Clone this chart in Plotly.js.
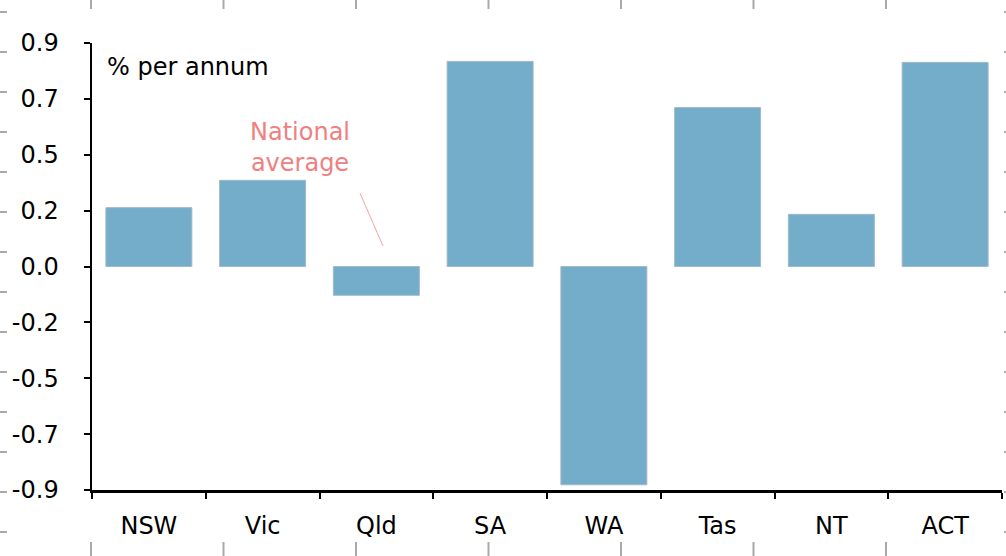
<!DOCTYPE html>
<html>
<head>
<meta charset="utf-8">
<script src="https://cdn.plot.ly/plotly-3.0.1.min.js"></script>
<style>html,body{margin:0;padding:0;background:#fff;}#chart{width:1006px;height:556px;}</style>
</head>
<body>
<div id="chart"></div>
<script>
// Data
const states = ["NSW", "Vic", "Qld", "SA", "WA", "Tas", "NT", "ACT"];
const growth = [0.237, 0.347, -0.116, 0.826, -0.879, 0.640, 0.210, 0.822];
const yTickVals = [-0.9, -0.675, -0.45, -0.225, 0, 0.225, 0.45, 0.675, 0.9];
const yTickText = ["-0.9", "-0.7", "-0.5", "-0.2", "0.0", "0.2", "0.5", "0.7", "0.9"];

const W = 1006, H = 556;
const M = {l: 92, r: 4, t: 43, b: 66};
const PW = W - M.l - M.r, PH = H - M.t - M.b;
const px = x => (x - M.l) / PW;
const py = y => (H - M.b - y) / PH;

const FONT = "DejaVu Sans, sans-serif";
const FS = 24;
const grey = "#a9a9a9";

// decorative frame ticks around the page edge
const shapes = [];
for (let k = 0; k < 14; k++) {
  const y = 12 + 40 * k;
  shapes.push({type: "line", xref: "paper", yref: "paper", x0: px(0), x1: px(7), y0: py(y), y1: py(y), line: {color: grey, width: 2}});
  shapes.push({type: "line", xref: "paper", yref: "paper", x0: px(1004), x1: px(1006), y0: py(y), y1: py(y), line: {color: grey, width: 2}});
}
for (let k = 0; k < 7; k++) {
  const x = 91 + 132.5 * k;
  shapes.push({type: "line", xref: "paper", yref: "paper", x0: px(x), x1: px(x), y0: py(0), y1: py(9), line: {color: grey, width: 2}});
  shapes.push({type: "line", xref: "paper", yref: "paper", x0: px(x), x1: px(x), y0: py(542), y1: py(556), line: {color: grey, width: 2}});
}
// national average pointer
shapes.push({type: "line", xref: "paper", yref: "paper", x0: px(360), y0: py(193), x1: px(383), y1: py(246), line: {color: "#f4a3a3", width: 1}});

const trace = {
  type: "bar",
  x: states,
  y: growth,
  marker: {color: "#74adca", line: {color: "#a1b9c8", width: 1}},
  hoverinfo: "x+y"
};

const layout = {
  width: W, height: H,
  margin: M,
  paper_bgcolor: "#fff", plot_bgcolor: "#fff",
  showlegend: false,
  bargap: 0.244,
  font: {family: FONT, size: FS, color: "#000"},
  xaxis: {
    type: "category",
    showgrid: false, zeroline: false,
    showline: true, linecolor: "#000", linewidth: 2.5,
    ticks: "outside", tickson: "boundaries", ticklen: 6, tickwidth: 2, tickcolor: "#000",
    tickfont: {family: FONT, size: FS, color: "#000"},
    ticklabelstandoff: 13,
    fixedrange: true
  },
  yaxis: {
    range: [-0.9, 0.9],
    showgrid: false, zeroline: false,
    showline: true, linecolor: "#000", linewidth: 2.5,
    ticks: "outside", ticklen: 6, tickwidth: 2, tickcolor: "#000",
    tickvals: yTickVals, ticktext: yTickText,
    tickfont: {family: FONT, size: FS, color: "#000"},
    ticklabelstandoff: 20,
    fixedrange: true
  },
  shapes: shapes,
  annotations: [
    {xref: "paper", yref: "paper", x: px(105), y: py(67), xanchor: "left", yanchor: "middle",
     text: "% per annum", showarrow: false, font: {family: FONT, size: FS, color: "#000"}},
    {xref: "paper", yref: "paper", x: px(300), y: py(147), xanchor: "center", yanchor: "middle",
     text: "National<br>average", showarrow: false, align: "center",
     font: {family: FONT, size: FS, color: "#f08080"}}
  ]
};

Plotly.newPlot("chart", [trace], layout, {displayModeBar: false, staticPlot: true});
</script>
</body>
</html>
